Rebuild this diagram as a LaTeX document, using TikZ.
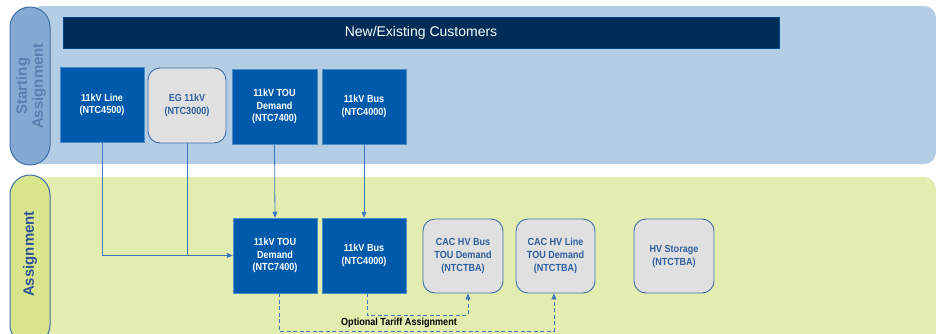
\documentclass[tikz,border=0pt]{standalone}
\usepackage{fontspec}
\setmainfont{Liberation Sans}
\newfontfamily\nfont[FakeStretch=0.88]{Liberation Sans}
\usetikzlibrary{arrows.meta}
\definecolor{toppanel}{HTML}{B3CDE5}
\definecolor{botpanel}{HTML}{E4EDB0}
\definecolor{navy}{HTML}{002D57}
\definecolor{nodeblue}{HTML}{005AAB}
\definecolor{grayfill}{HTML}{E0E0E0}
\definecolor{edgeblue}{HTML}{3F6FA8}
\definecolor{graytext}{HTML}{2E5F9E}
\definecolor{conn}{HTML}{3F78BF}
\definecolor{pillblue}{HTML}{84AAD4}
\definecolor{pilltextblue}{HTML}{5A7FB0}
\definecolor{pillgreen}{HTML}{D8E58A}
\definecolor{pilltextgreen}{HTML}{2F5597}
\tikzset{
  bluebox/.style={draw=nodeblue!70!white, line width=0.5pt, fill=nodeblue, text=white,
    font=\nfont\bfseries\fontsize{10.3}{12.5}\selectfont, align=center, inner sep=0pt,
    minimum width=84pt, minimum height=75pt},
  graybox/.style={draw=edgeblue, line width=0.9pt, fill=grayfill, text=graytext, rounded corners=12pt,
    font=\nfont\bfseries\fontsize{10.3}{13}\selectfont, align=center, inner sep=0pt,
    minimum width=79pt, minimum height=74pt},
  pill/.style={draw=edgeblue, line width=1pt, rounded corners=20pt, minimum width=40pt, inner sep=0pt},
  pilltext/.style={rotate=90, font=\bfseries\fontsize{15}{16}\selectfont, align=center},
  conline/.style={draw=conn, line width=0.8pt, -{Triangle[length=6pt,width=5pt]}},
  dashline/.style={draw=conn, line width=0.8pt, dash pattern=on 4pt off 2.5pt, -{Triangle[length=6pt,width=5pt]}},
}
\begin{document}
\begin{tikzpicture}[x=1pt,y=-1pt]
\useasboundingbox (0,0) rectangle (936,333);
% panels
\fill[toppanel, rounded corners=12pt] (30,6) rectangle (936,164);
\fill[botpanel, rounded corners=12pt] (30,177) rectangle (936,345);
% pills
\node[pill, fill=pillblue, minimum height=158pt] (p1) at (30,86) {};
\node[pilltext, text=pilltextblue] (p1t) at (31,86) {Starting\\Assignment};
\node[pill, fill=pillgreen, minimum height=170pt] (p2) at (30,260) {};
\node[pilltext, text=pilltextgreen] (p2t) at (30,254) {Assignment};
% header bar
\node[fill=navy, draw=nodeblue!60!navy, line width=0.5pt, minimum width=716pt, minimum height=31pt, inner sep=0pt,
  text=white, font=\fontsize{14}{16}\selectfont] (hdr) at (421,32.5) {New/Existing Customers};
% top nodes
\node[bluebox] (line1) at (102,105) {11kV Line\\(NTC4500)};
\node[graybox, minimum width=78pt, minimum height=75pt] (eg) at (187,105.5) {EG 11kV\\(NTC3000)};
\node[bluebox, minimum width=85pt] (tou1) at (274.5,106.5) {11kV TOU\\Demand\\(NTC7400)};
\node[bluebox] (bus1) at (364,106.5) {11kV Bus\\(NTC4000)};
% bottom nodes
\node[bluebox] (tou2) at (275,255.5) {11kV TOU\\Demand\\(NTC7400)};
\node[bluebox] (bus2) at (364,255.5) {11kV Bus\\(NTC4000)};
\node[graybox, minimum width=80pt] (cacbus) at (463,256) {CAC HV Bus\\TOU Demand\\(NTCTBA)};
\node[graybox] (cacline) at (555.5,256) {CAC HV Line\\TOU Demand\\(NTCTBA)};
\node[graybox, minimum width=80pt] (hvs) at (674,256) {HV Storage\\(NTCTBA)};
% connectors
\draw[conline] (line1.south) |- (tou2.west);
\draw[draw=conn, line width=0.8pt] (eg.south) -- (eg.south |- tou2.west);
\draw[conline] (tou1.south) -- (tou2.north);
\draw[conline] (bus1.south) -- (bus2.north);
\coordinate (d1) at (367,315);
\coordinate (d2) at (279,331);
\draw[dashline] (bus2.south -| d1) -- (d1) -| ([xshift=5pt]cacbus.south);
\draw[dashline] (tou2.south -| d2) -- (d2) -| ([xshift=-1.5pt]cacline.south);
\node[font=\nfont\bfseries\fontsize{10.3}{11}\selectfont, text=black, inner sep=1pt] (opt) at (399,323) {Optional Tariff Assignment};
\end{tikzpicture}
\end{document}
